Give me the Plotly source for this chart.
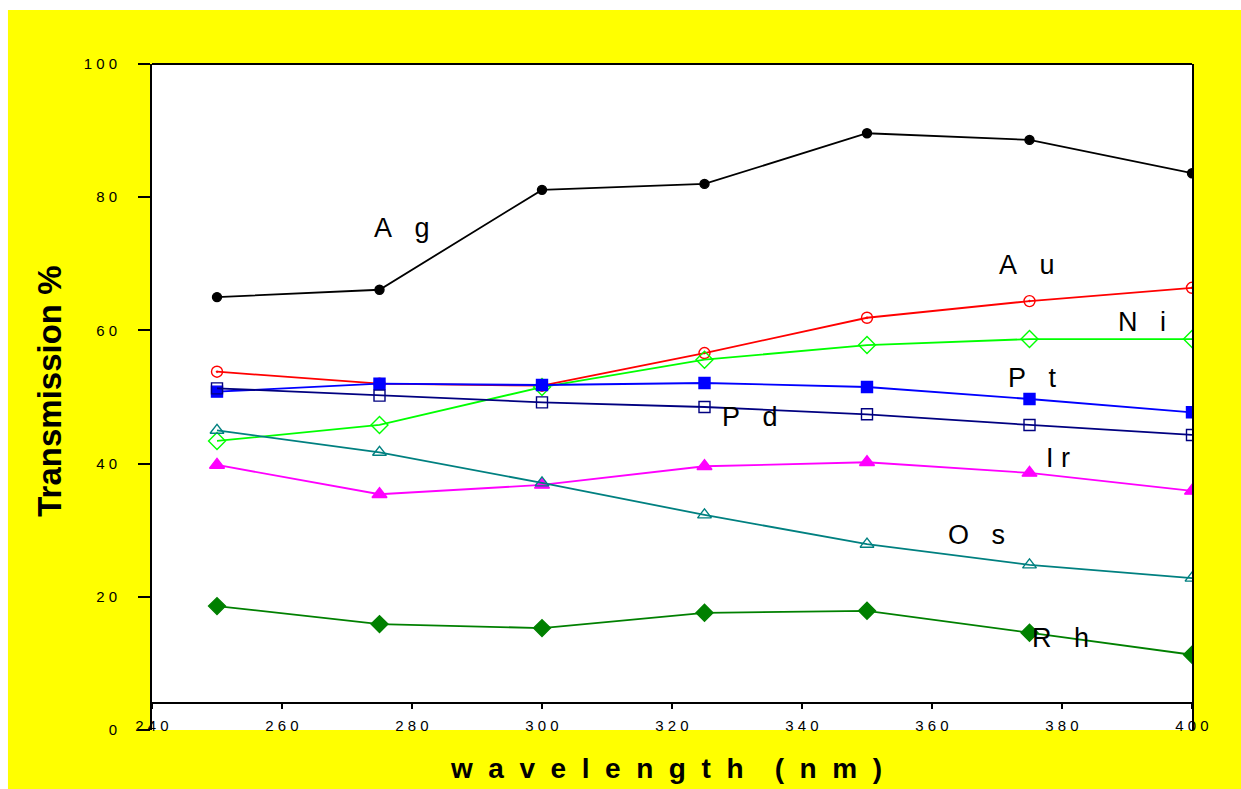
import plotly.graph_objects as go

# ---- data ----
wavelength = [250, 275, 300, 325, 350, 375, 400]
Ag = [65.0, 66.1, 81.1, 82.0, 89.6, 88.6, 83.6]
Au = [53.8, 52.0, 51.7, 56.6, 61.9, 64.4, 66.4]
Ni = [43.4, 45.8, 51.5, 55.6, 57.8, 58.7, 58.7]
Pt = [50.8, 52.0, 51.8, 52.1, 51.5, 49.7, 47.7]
Pd = [51.3, 50.2, 49.2, 48.5, 47.4, 45.8, 44.3]
Ir = [39.8, 35.4, 36.8, 39.6, 40.2, 38.6, 35.9]
Os = [45.0, 41.7, 37.1, 32.3, 27.9, 24.8, 22.8]
Rh = [18.6, 15.9, 15.3, 17.6, 17.9, 14.6, 11.3]

x_ticks = [240, 260, 280, 300, 320, 340, 360, 380, 400]
y_ticks = [0, 20, 40, 60, 80, 100]

NB = "\u00a0"
def spaced(s, n=1):
    return (NB * n).join(list(str(s)))

x_ticktext = [spaced(v) for v in x_ticks]
y_ticktext = [spaced(v) for v in y_ticks]

series = [
    ("Ag", Ag, "#000000", "circle", 9),
    ("Au", Au, "#FF0000", "circle-open-dot", 11),
    ("Ni", Ni, "#00FF00", "diamond-open", 13),
    ("Pt", Pt, "#0000FF", "square", 11),
    ("Pd", Pd, "#000080", "square-open", 11),
    ("Ir", Ir, "#FF00FF", "triangle-up", 13),
    ("Os", Os, "#008080", "triangle-up-open", 12),
    ("Rh", Rh, "#008000", "diamond", 13),
]

# label texts and their positions (data coords)
label_text = ["A" + NB*3 + "g", "A" + NB*3 + "u", "N" + NB*3 + "i", "P" + NB*3 + "t",
              "P" + NB*3 + "d", "I" + NB + "r", "O" + NB*3 + "s", "R" + NB*3 + "h"]
label_x = [278.5, 374.6, 392.3, 375.4, 332.0, 379.4, 366.8, 379.8]
label_y = [75.4, 69.8, 61.3, 52.9, 47.0, 40.8, 29.3, 13.8]

fig = go.Figure()
for name, ys, col, sym, sz in series:
    fig.add_trace(go.Scatter(
        x=wavelength, y=ys, mode="lines+markers", name=name,
        line=dict(color=col, width=1.8),
        marker=dict(symbol=sym, size=sz, color=col, line=dict(color=col, width=1.4)),
        showlegend=False,
    ))

annotations = []
for t, lx, ly in zip(label_text, label_x, label_y):
    annotations.append(dict(x=lx, y=ly, xref="x", yref="y", text=t, showarrow=False,
                            xanchor="center", yanchor="middle",
                            font=dict(family="Arial", size=27, color="black")))

annotations.append(dict(x=-0.098, y=0.508, xref="paper", yref="paper",
                        text="<b>Transmission %</b>", textangle=-90, showarrow=False,
                        xanchor="center", yanchor="middle",
                        font=dict(family="Arial", size=33, color="black")))
xt = (NB * 2).join(list("wavelength")) + NB * 4 + (NB * 2).join(list("(nm)"))
annotations.append(dict(x=0.4947, y=-0.058, xref="paper", yref="paper",
                        text="<b>" + xt + "</b>", showarrow=False,
                        xanchor="center", yanchor="middle",
                        font=dict(family="Arial", size=28, color="black")))

shapes = [
    # top border of plot
    dict(type="line", xref="paper", yref="paper", x0=0, x1=1, y0=1, y1=1,
         line=dict(color="black", width=2)),
    # white margins of the picture
    dict(type="rect", xref="paper", yref="paper", x0=-0.2, x1=1.1, y0=1.081, y1=1.2,
         fillcolor="white", line=dict(width=0), layer="below"),
    dict(type="rect", xref="paper", yref="paper", x0=-0.2, x1=-0.1385, y0=-0.2, y1=1.2,
         fillcolor="white", line=dict(width=0), layer="below"),
]

fig.update_layout(
    width=1241, height=789,
    margin=dict(l=152, r=49, t=64, b=59, pad=0),
    paper_bgcolor="#FFFF00", plot_bgcolor="white",
    annotations=annotations, shapes=shapes,
    xaxis=dict(range=[240, 400], tickvals=x_ticks, ticktext=x_ticktext,
               anchor="free", position=0.0405,
               showline=True, linecolor="black", linewidth=2,
               ticks="outside", ticklen=5, tickwidth=1.5, tickcolor="black",
               showgrid=False, zeroline=False, ticklabelstandoff=4,
               tickfont=dict(family="Arial", size=15, color="black")),
    yaxis=dict(range=[0, 100], tickvals=y_ticks, ticktext=y_ticktext,
               showline=True, mirror=True, linecolor="black", linewidth=2,
               ticks="outside", ticklen=12, tickwidth=1.5, tickcolor="black",
               showgrid=False, zeroline=False, ticklabelstandoff=18,
               tickfont=dict(family="Arial", size=15, color="black")),
)

fig.write_html("out.html")
